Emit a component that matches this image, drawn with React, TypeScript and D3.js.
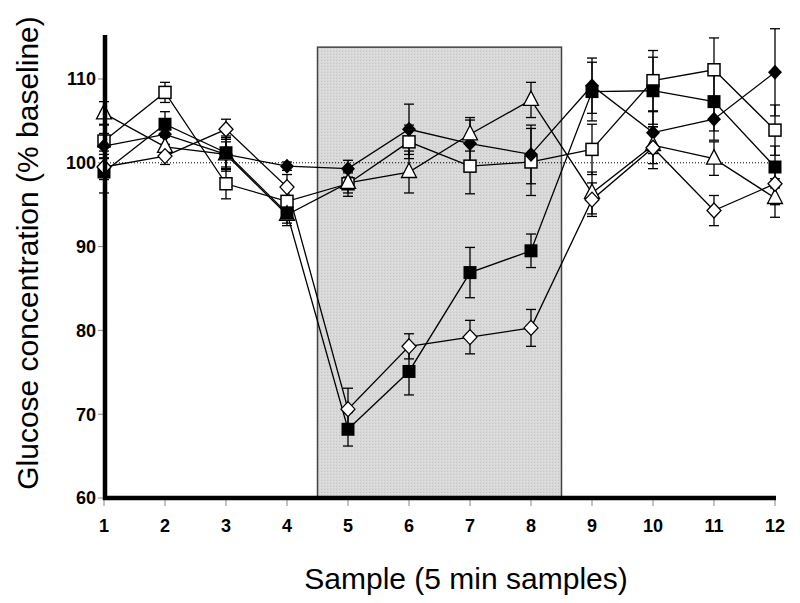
import React from "react";
import * as d3 from "d3";

const samples = [1, 2, 3, 4, 5, 6, 7, 8, 9, 10, 11, 12];
const yTicks = [60, 70, 80, 90, 100, 110];

const filledSquare = [98.9, 104.6, 101.2, 94.0, 68.2, 75.1, 86.9, 89.5, 108.5, 108.6, 107.3, 99.5];
const filledSquareSE = [2.5, 1.5, 2.0, 1.5, 2.0, 2.8, 3.0, 2.0, 3.5, 4.0, 3.5, 2.5];
const openSquare = [102.6, 108.4, 97.5, 95.4, 97.5, 102.5, 99.6, 100.1, 101.6, 109.8, 111.1, 103.9];
const openSquareSE = [2.0, 1.2, 1.8, 1.5, 1.5, 2.0, 3.3, 4.0, 3.0, 3.6, 3.8, 3.0];
const filledDiamond = [102.0, 103.4, 101.0, 99.6, 99.3, 104.0, 102.3, 101.0, 109.2, 103.6, 105.2, 110.8];
const filledDiamondSE = [1.5, 1.2, 1.5, 0.5, 1.0, 3.0, 2.8, 3.5, 3.3, 2.5, 2.5, 5.2];
const openDiamond = [99.5, 100.8, 104.0, 97.1, 70.6, 78.1, 79.2, 80.3, 95.6, 101.8, 94.3, 97.5];
const openDiamondSE = [1.5, 1.0, 1.2, 1.5, 2.5, 1.5, 2.0, 2.2, 2.0, 2.5, 1.8, 2.5];
const triangle = [105.9, 101.9, 101.0, 93.8, 97.6, 98.9, 103.4, 107.5, 96.4, 102.1, 100.5, 95.8];
const triangleSE = [1.4, 1.2, 2.0, 1.0, 1.2, 2.5, 2.0, 2.1, 2.5, 2.2, 2.0, 2.3];

const stimStart = 4.5;
const stimEnd = 8.5;
const stimTop = 113.8;
const baseline = 100;

type Shape = "fsq" | "osq" | "fdi" | "odi" | "tri";
const series: { shape: Shape; values: number[]; se: number[] }[] = [
  { shape: "osq", values: openSquare, se: openSquareSE },
  { shape: "fdi", values: filledDiamond, se: filledDiamondSE },
  { shape: "tri", values: triangle, se: triangleSE },
  { shape: "fsq", values: filledSquare, se: filledSquareSE },
  { shape: "odi", values: openDiamond, se: openDiamondSE },
];

export default function App() {
  const x = d3.scaleLinear().domain([1, 12]).range([104, 775]);
  const y = d3.scaleLinear().domain([60, 110]).range([498, 79]);
  const line = d3
    .line<number>()
    .x((_, i) => x(samples[i]))
    .y((v) => y(v));

  const marker = (shape: Shape, cx: number, cy: number, key: string) => {
    const s = 6.5;
    switch (shape) {
      case "fsq":
        return <rect key={key} x={cx - s} y={cy - s} width={2 * s} height={2 * s} fill="#000" />;
      case "osq":
        return (
          <rect key={key} x={cx - s + 0.5} y={cy - s + 0.5} width={2 * s - 1} height={2 * s - 1} fill="#fff" stroke="#000" strokeWidth={1.5} />
        );
      case "fdi":
        return <path key={key} d={`M${cx},${cy - 7.5}L${cx + 7},${cy}L${cx},${cy + 7.5}L${cx - 7},${cy}Z`} fill="#000" />;
      case "odi":
        return (
          <path key={key} d={`M${cx},${cy - 7.5}L${cx + 7},${cy}L${cx},${cy + 7.5}L${cx - 7},${cy}Z`} fill="#fff" stroke="#000" strokeWidth={1.3} />
        );
      case "tri":
        return (
          <path key={key} d={`M${cx},${cy - 9}L${cx + 7.5},${cy + 5.5}L${cx - 7.5},${cy + 5.5}Z`} fill="#fff" stroke="#000" strokeWidth={1.3} />
        );
    }
  };

  const font = "Arial, 'Liberation Sans', Helvetica, sans-serif";

  return (
    <div style={{ position: "absolute", left: 0, top: 0 }}>
      <svg width={800} height={603} style={{ display: "block", background: "#fff" }}>
        <defs>
          <pattern id="grain" width="3" height="3" patternUnits="userSpaceOnUse">
            <rect width="3" height="3" fill="#d8d8d8" />
            <rect width="1" height="1" fill="#c6c6c6" />
            <rect x="2" y="1" width="1" height="1" fill="#e4e4e4" />
          </pattern>
        </defs>
        {/* stimulation period */}
        <rect
          x={x(stimStart)}
          y={y(stimTop)}
          width={x(stimEnd) - x(stimStart)}
          height={y(60) - y(stimTop)}
          fill="url(#grain)"
          stroke="#444"
          strokeWidth={1.5}
        />
        {/* baseline */}
        <line x1={x(1)} x2={x(12)} y1={y(baseline)} y2={y(baseline)} stroke="#000" strokeWidth={1} strokeDasharray="1,2" />

        {/* y ticks */}
        {yTicks.map((t) => (
          <g key={t}>
            <line x1={98} x2={105} y1={y(t)} y2={y(t)} stroke="#888" strokeWidth={1} />
            <text x={96} y={y(t)} dy="0.36em" textAnchor="end" fontFamily={font} fontWeight="bold" fontSize={18}>
              {t}
            </text>
          </g>
        ))}
        {/* x ticks */}
        {samples.map((s) => (
          <g key={s}>
            <line x1={x(s)} x2={x(s)} y1={498} y2={506} stroke="#888" strokeWidth={1} />
            <text x={x(s)} y={532} textAnchor="middle" fontFamily={font} fontWeight="bold" fontSize={18}>
              {s}
            </text>
          </g>
        ))}

        {/* series */}
        {series.map((sr, si) => (
          <g key={si}>
            <path d={line(sr.values) || ""} fill="none" stroke="#000" strokeWidth={1.3} />
            {sr.values.map((v, i) => {
              const cx = x(samples[i]);
              const y1 = y(v + sr.se[i]);
              const y2 = y(v - sr.se[i]);
              return (
                <g key={i} stroke="#000" strokeWidth={1.3}>
                  <line x1={cx} x2={cx} y1={y1} y2={y2} />
                  <line x1={cx - 5} x2={cx + 5} y1={y1} y2={y1} />
                  <line x1={cx - 5} x2={cx + 5} y1={y2} y2={y2} />
                </g>
              );
            })}
          </g>
        ))}
        {series.map((sr, si) => (
          <g key={"m" + si}>{sr.values.map((v, i) => marker(sr.shape, x(samples[i]), y(v), `${si}-${i}`))}</g>
        ))}

        {/* axes */}
        <line x1={105} x2={105} y1={35} y2={500} stroke="#000" strokeWidth={4.5} />
        <line x1={103} x2={776} y1={498} y2={498} stroke="#000" strokeWidth={4.5} />

        {/* titles */}
        <text
          transform={`translate(38, 253) rotate(-90)`}
          textAnchor="middle"
          fontFamily={font}
          fontSize={30}
        >
          Glucose concentration (% baseline)
        </text>
        <text x={466} y={589} textAnchor="middle" fontFamily={font} fontSize={30}>
          Sample (5 min samples)
        </text>
      </svg>
    </div>
  );
}
